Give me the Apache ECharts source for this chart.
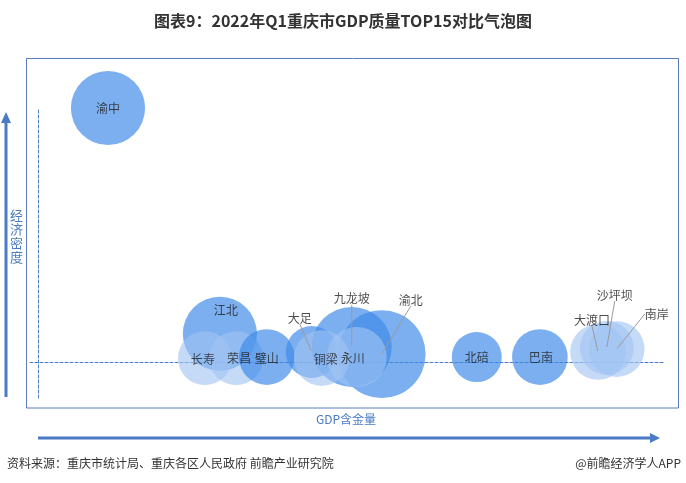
<!DOCTYPE html>
<html><head><meta charset="utf-8">
<script src="https://cdn.jsdelivr.net/npm/echarts@6/dist/echarts.min.js"></script>
<style>html,body{margin:0;padding:0;background:#fff}#c{width:686px;height:483px}</style>
</head><body><div id="c"></div>
<script>
// Data (arbitrary units)
const districts   = ['渝中','江北','长寿','荣昌','璧山','大足','铜梁','九龙坡','渝北','永川','北碚','巴南','大渡口','沙坪坝','南岸'];
const gdpQuality  = [11.2, 29.1, 26.7, 31.7, 36.6, 43.8, 45.4, 50.2, 55.0, 51.0, 70.2, 80.3, 89.6, 91.0, 92.6];
const econDensity = [70.0, 7.7, 1.0, 1.0, 1.3, 2.7, 1.0, 4.1, 2.1, 1.3, 1.3, 1.3, 2.7, 3.8, 3.5];
const bubbleSize  = [55, 55, 29, 29, 31, 27, 31, 64, 77, 36, 25, 31, 31, 29, 31];

// Styling (kept apart from the data)
const drawOrder = ['渝中','江北','大足','九龙坡','渝北','北碚','巴南','长寿','荣昌','璧山','铜梁','永川','大渡口','沙坪坝','南岸'];
const lightSet = ['长寿','荣昌','铜梁','永川','大渡口','沙坪坝','南岸'];
const calloutSet = ['大足','九龙坡','渝北','大渡口','沙坪坝','南岸'];
const insideOffset = {'江北':[6,-23],'长寿':[-2,1],'荣昌':[3,0],'铜梁':[4,1],'永川':[-4,1],'北碚':[0,0],'巴南':[1,0],'璧山':[0,1]};
const calloutShift = {'大足':[-12,-34],'九龙坡':[0,-48],'渝北':[29,-54],'大渡口':[-6,-32],'沙坪坝':[8,-53],'南岸':[40,-35]};

const FONT = "'Noto Sans CJK SC','Noto Sans',sans-serif";
const BLUE = '#4a7bc4';
const DARK = 'rgba(62,138,233,0.85)';
const LIGHT = 'rgba(161,195,242,0.78)';

function row(n){
  const i = districts.indexOf(n);
  return {name:n, value:[gdpQuality[i], econDensity[i], bubbleSize[i]]};
}
const bubbleRows = drawOrder.map(n => {
  const r = row(n);
  r.itemStyle = {color: lightSet.includes(n) ? LIGHT : DARK};
  return r;
});
const calloutRows = districts.filter(n => calloutSet.includes(n)).map(row);

const chart = echarts.init(document.getElementById('c'));
chart.setOption({
  animation:false,
  backgroundColor:'#fff',
  title:{
    text:'图表9：2022年Q1重庆市GDP质量TOP15对比气泡图', left:'center', top:8,
    textStyle:{fontFamily:FONT, fontSize:16, fontWeight:'bold', color:'#333'}
  },
  grid:{left:30, right:23, top:108, bottom:85},
  xAxis:{
    type:'value', min:-1.28, max:100,
    axisLine:{show:true, onZero:true, lineStyle:{color:BLUE, type:[3,2], width:1}},
    axisTick:{show:false}, axisLabel:{show:false}, splitLine:{show:false}
  },
  yAxis:{
    type:'value', min:-10, max:70,
    axisLine:{show:true, onZero:true, lineStyle:{color:BLUE, type:[3,2], width:1}},
    axisTick:{show:false}, axisLabel:{show:false}, splitLine:{show:false}
  },
  series:[
    {
      type:'scatter', clip:false, z:2,
      data: bubbleRows,
      symbolSize: v => Math.sqrt(v[2]) * 10,
      label: {
        show: true, position:'inside', color:'#222', fontSize:12, fontFamily:FONT,
        formatter: p => calloutSet.includes(p.name) ? '' : p.name
      },
      labelLayout: p => {
        const o = insideOffset[bubbleRows[p.dataIndex].name] || [0,0];
        return {dx:o[0], dy:o[1]};
      },
      emphasis:{disabled:true}
    },
    {
      type:'scatter', clip:false, z:5,
      data: calloutRows,
      symbolSize: 2,
      itemStyle:{color:'rgba(0,0,0,0)'},
      label:{show:true, position:'inside', color:'#222', fontSize:12, fontFamily:FONT, formatter:'{b}'},
      labelLine:{show:true, lineStyle:{color:'#9a9a9a', width:1}},
      labelLayout: p => { const o = calloutShift[calloutRows[p.dataIndex].name]; return {dx:o[0], dy:o[1]}; },
      emphasis:{disabled:true}
    }
  ],
  graphic:[
    {type:'rect', shape:{x:26.5, y:58.5, width:652, height:349.5}, style:{fill:'none', stroke:'#5a7bbf', lineWidth:1}, z:-1},
    {type:'line', shape:{x1:6, y1:397, x2:6, y2:122}, style:{stroke:BLUE, lineWidth:3}},
    {type:'polygon', shape:{points:[[1,123],[11,123],[6,112]]}, style:{fill:BLUE}},
    {type:'text', left:10, top:208, style:{text:'经\n济\n密\n度', font:'13px '+FONT, fill:BLUE, lineHeight:14}},
    {type:'line', shape:{x1:38, y1:438, x2:651, y2:438}, style:{stroke:BLUE, lineWidth:3}},
    {type:'polygon', shape:{points:[[650,433],[650,443],[660,438]]}, style:{fill:BLUE}},
    {type:'text', x:346, y:419, style:{text:'GDP含金量', font:'12px '+FONT, fill:BLUE, textAlign:'center', textVerticalAlign:'middle'}},
    {type:'text', x:7, y:463, style:{text:'资料来源：重庆市统计局、重庆各区人民政府 前瞻产业研究院', font:'12px '+FONT, fill:'#333', textVerticalAlign:'middle'}},
    {type:'text', x:681, y:463, style:{text:'@前瞻经济学人APP', font:'12px '+FONT, fill:'#333', textAlign:'right', textVerticalAlign:'middle'}}
  ]
});
</script></body></html>
